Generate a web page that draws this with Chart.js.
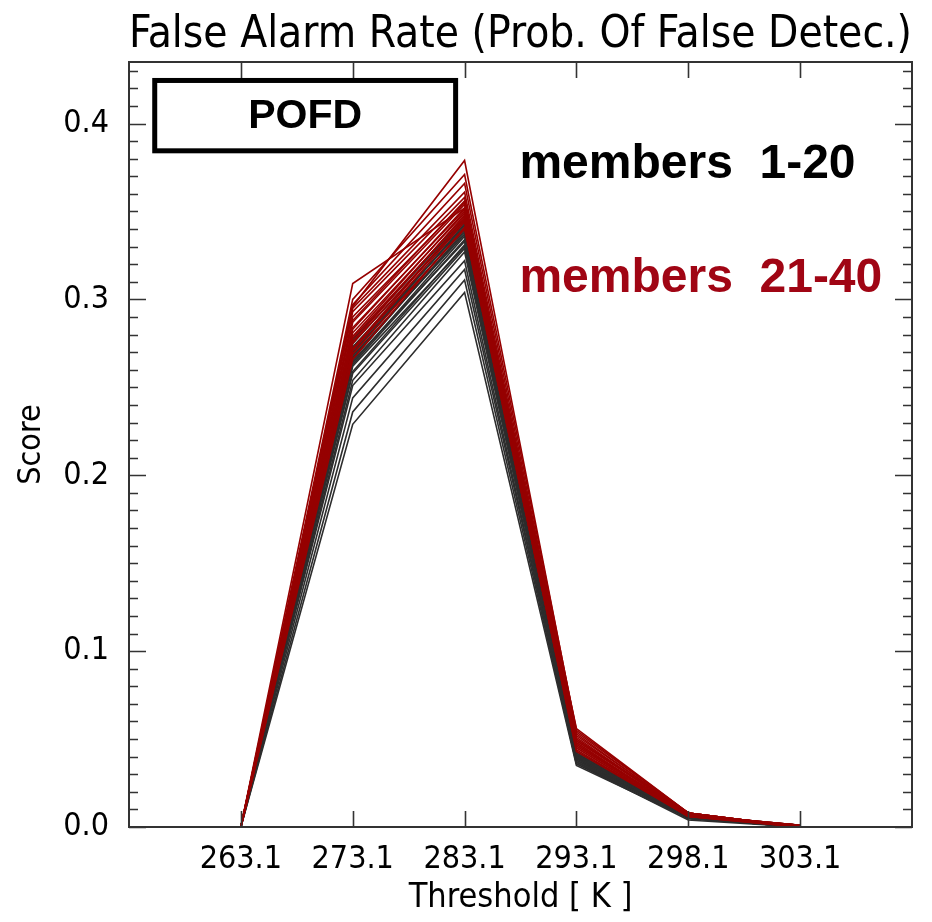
<!DOCTYPE html>
<html>
<head>
<meta charset="utf-8">
<script src="https://cdn.jsdelivr.net/npm/chart.js@4.4.1/dist/chart.umd.min.js"></script>
<style>
  html, body { margin: 0; padding: 0; background: #fff; }
  #wrap { width: 932px; height: 922px; }
</style>
</head>
<body>
<div id="wrap"><canvas id="pofd" width="932" height="922"></canvas></div>
<script>
// thresholds on the x axis
const thresholds = ['263.1', '273.1', '283.1', '293.1', '298.1', '303.1'];

// POFD per threshold, members 1-20 (black)
const membersBlack = [
    [0, 0.229, 0.304, 0.035, 0.005, 0.000],
    [0, 0.236, 0.311, 0.036, 0.004, 0.000],
    [0, 0.244, 0.317, 0.037, 0.005, 0.001],
    [0, 0.251, 0.322, 0.036, 0.006, 0.000],
    [0, 0.254, 0.327, 0.038, 0.005, 0.000],
    [0, 0.258, 0.329, 0.037, 0.005, 0.000],
    [0, 0.259, 0.331, 0.039, 0.006, 0.001],
    [0, 0.262, 0.330, 0.038, 0.005, 0.000],
    [0, 0.263, 0.334, 0.040, 0.006, 0.000],
    [0, 0.265, 0.333, 0.039, 0.005, 0.000],
    [0, 0.264, 0.336, 0.041, 0.006, 0.001],
    [0, 0.267, 0.338, 0.040, 0.006, 0.000],
    [0, 0.266, 0.339, 0.039, 0.005, 0.000],
    [0, 0.268, 0.337, 0.041, 0.006, 0.000],
    [0, 0.270, 0.340, 0.042, 0.006, 0.001],
    [0, 0.271, 0.342, 0.040, 0.005, 0.000],
    [0, 0.269, 0.343, 0.041, 0.006, 0.000],
    [0, 0.273, 0.341, 0.042, 0.006, 0.000],
    [0, 0.275, 0.344, 0.043, 0.007, 0.001],
    [0, 0.277, 0.346, 0.041, 0.006, 0.000]
];

// POFD per threshold, members 21-40 (red)
const membersRed = [
    [0, 0.266, 0.341, 0.044, 0.006, 0.000],
    [0, 0.269, 0.340, 0.045, 0.007, 0.001],
    [0, 0.271, 0.344, 0.043, 0.006, 0.000],
    [0, 0.272, 0.346, 0.046, 0.007, 0.000],
    [0, 0.275, 0.345, 0.045, 0.006, 0.001],
    [0, 0.276, 0.348, 0.047, 0.007, 0.000],
    [0, 0.278, 0.347, 0.046, 0.008, 0.000],
    [0, 0.279, 0.350, 0.048, 0.006, 0.001],
    [0, 0.281, 0.349, 0.047, 0.007, 0.000],
    [0, 0.283, 0.352, 0.049, 0.008, 0.000],
    [0, 0.284, 0.351, 0.048, 0.007, 0.001],
    [0, 0.287, 0.354, 0.050, 0.007, 0.000],
    [0, 0.288, 0.356, 0.049, 0.008, 0.000],
    [0, 0.290, 0.355, 0.051, 0.007, 0.001],
    [0, 0.293, 0.358, 0.050, 0.008, 0.000],
    [0, 0.295, 0.361, 0.052, 0.008, 0.000],
    [0, 0.297, 0.366, 0.053, 0.007, 0.001],
    [0, 0.300, 0.371, 0.055, 0.008, 0.000],
    [0, 0.296, 0.379, 0.054, 0.008, 0.000],
    [0, 0.309, 0.352, 0.056, 0.008, 0.000]
];

const thinFont = "'DejaVu Sans Condensed', 'Liberation Sans Narrow', sans-serif";
const boldFont = "'Liberation Sans', Arial, sans-serif";
const lineBlack = 'rgb(45, 45, 45)';
const lineRed = 'rgb(150, 0, 0)';
const textRed = 'rgb(160, 5, 20)';

function toPoints(vals) {
    return vals.map((v, i) => ({ x: i, y: v }));
}

// frame, inward ticks and the text boxes
const framePlugin = {
    id: 'frame',
    afterDatasetsDraw(chart) {
        const { ctx, chartArea: a, scales: { x, y } } = chart;
        ctx.save();
        ctx.strokeStyle = '#333';
        ctx.lineWidth = 2;
        ctx.strokeRect(a.left, a.top, a.right - a.left, a.bottom - a.top);

        ctx.lineWidth = 1.6;
        ctx.beginPath();
        thresholds.forEach((t, i) => {
            const px = Math.round(x.getPixelForValue(i)) + 0.5;
            ctx.moveTo(px, a.bottom); ctx.lineTo(px, a.bottom - 16);
            ctx.moveTo(px, a.top); ctx.lineTo(px, a.top + 16);
        });
        for (let k = 0; k <= 43; k++) {
            const py = Math.round(y.getPixelForValue(k / 100)) + 0.5;
            const len = k % 10 === 0 ? 17 : 9;
            ctx.moveTo(a.left, py); ctx.lineTo(a.left + len, py);
            ctx.moveTo(a.right, py); ctx.lineTo(a.right - len, py);
        }
        ctx.stroke();

        // POFD box
        const bx0 = x.getPixelForValue(-0.77), bx1 = x.getPixelForValue(1.92);
        const by0 = y.getPixelForValue(0.4245), by1 = y.getPixelForValue(0.3845);
        ctx.fillStyle = '#fff';
        ctx.fillRect(bx0, by0, bx1 - bx0, by1 - by0);
        ctx.strokeStyle = '#000';
        ctx.lineWidth = 5;
        ctx.strokeRect(bx0, by0, bx1 - bx0, by1 - by0);
        ctx.fillStyle = '#000';
        ctx.font = 'bold 41px ' + boldFont;
        ctx.textAlign = 'center';
        ctx.textBaseline = 'middle';
        ctx.fillText('POFD', (bx0 + bx1) / 2, (by0 + by1) / 2 + 1);

        ctx.textAlign = 'left';
        ctx.textBaseline = 'alphabetic';
        ctx.font = 'bold 48px ' + boldFont;
        ctx.fillStyle = '#000';
        ctx.fillText('members  1-20', x.getPixelForValue(2.49), y.getPixelForValue(0.369));
        ctx.fillStyle = textRed;
        ctx.fillText('members  21-40', x.getPixelForValue(2.49), y.getPixelForValue(0.304));
        ctx.restore();
    }
};

const datasets = [];
membersRed.forEach((m, i) => datasets.push({
    label: 'member ' + (21 + i),
    data: toPoints(m),
    borderColor: lineRed,
    borderWidth: 1.6,
    pointRadius: 0,
    order: 0
}));
membersBlack.forEach((m, i) => datasets.push({
    label: 'member ' + (1 + i),
    data: toPoints(m),
    borderColor: lineBlack,
    borderWidth: 1.6,
    pointRadius: 0,
    order: 1
}));

const ctx = document.getElementById('pofd');
const pofdChart = new Chart(ctx, {
    type: 'line',
    data: { datasets: datasets },
    plugins: [framePlugin],
    options: {
        responsive: false,
        animation: false,
        layout: { padding: { left: 0, right: 20, top: 0, bottom: 0 } },
        plugins: {
            legend: { display: false },
            tooltip: { enabled: false },
            title: {
                display: true,
                fullSize: false,
                text: 'False Alarm Rate (Prob. Of False Detec.)',
                color: '#000',
                font: { family: thinFont, size: 45, weight: 'normal', lineHeight: 1.2 },
                padding: { top: 8, bottom: 0 }
            }
        },
        scales: {
            x: {
                type: 'linear',
                min: -1,
                max: 6,
                grid: { display: false, drawTicks: false },
                border: { display: false },
                afterFit(scale) { scale.height = 95; },
                ticks: {
                    stepSize: 1,
                    padding: 13,
                    maxRotation: 0,
                    autoSkip: false,
                    color: '#000',
                    font: { family: thinFont, size: 32 },
                    callback: v => thresholds[v] || ''
                },
                title: {
                    display: true,
                    text: 'Threshold [ K ]',
                    color: '#000',
                    font: { family: thinFont, size: 34 },
                    padding: { top: 0, bottom: 3 }
                }
            },
            y: {
                min: 0,
                max: 0.435,
                grid: { display: false, drawTicks: false },
                border: { display: false },
                afterFit(scale) { scale.width = 129; },
                ticks: {
                    stepSize: 0.1,
                    padding: 20,
                    color: '#000',
                    font: { family: thinFont, size: 32 },
                    callback: v => Math.abs(v * 10 - Math.round(v * 10)) < 1e-6 ? v.toFixed(1) : ''
                },
                title: {
                    display: true,
                    text: 'Score',
                    color: '#000',
                    font: { family: thinFont, size: 32 },
                    padding: { top: 12, bottom: 0 }
                }
            }
        }
    }
});
</script>
</body>
</html>
